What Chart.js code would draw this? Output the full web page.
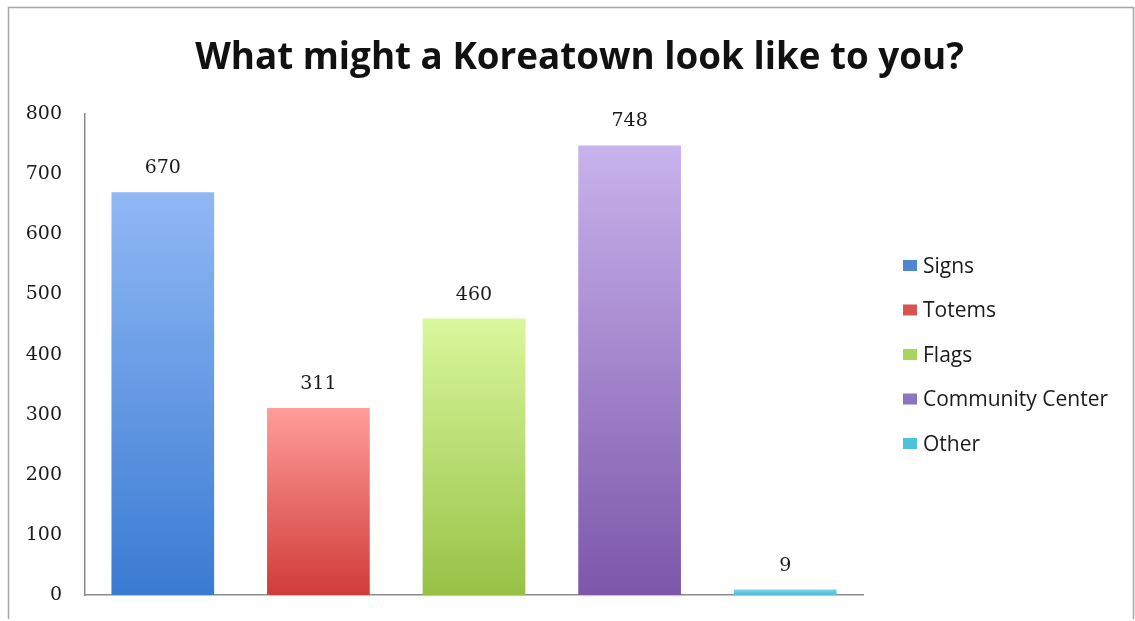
<!DOCTYPE html>
<html>
<head>
  <script src="https://cdn.jsdelivr.net/npm/chart.js"></script>
  <style>
    body { margin: 0; background: #fff; }
  </style>
</head>
<body>
  <canvas id="koreatownChart" width="1135" height="621"></canvas>

  <script>
    // survey answers
    const categories = ['Signs', 'Totems', 'Flags', 'Community Center', 'Other'];
    const counts = [670, 311, 460, 748, 9];
    const yMin = 0;
    const yMax = 800;
    const yStep = 100;

    // bar colours, light at the top and dark at the axis
    const topColors = ['#90b8f5', '#ff9d9a', '#d9f79c', '#c8b3ec', '#7fd3e8'];
    const bottomColors = ['#3a7bd2', '#d03c38', '#98c246', '#7d56aa', '#4bbcd8'];
    const keyColors = ['#4f86d0', '#d9534f', '#a8d460', '#9073c0', '#4fc3dc'];

    function barGradient(ctx) {
      const chart = ctx.chart;
      if (!chart.chartArea || ctx.dataIndex === undefined) return keyColors[0];
      const y = chart.scales.y;
      const top = y.getPixelForValue(counts[ctx.dataIndex]);
      const bottom = y.getPixelForValue(0);
      const g = chart.ctx.createLinearGradient(0, top, 0, bottom + 0.01);
      g.addColorStop(0, topColors[ctx.dataIndex]);
      g.addColorStop(1, bottomColors[ctx.dataIndex]);
      return g;
    }

    // grey frame round the whole picture
    const framePlugin = {
      id: 'frame',
      beforeDraw(chart) {
        const c = chart.ctx;
        c.save();
        c.strokeStyle = '#a6a6a6';
        c.lineWidth = 1.5;
        c.beginPath();
        c.moveTo(8.5, 619);
        c.lineTo(8.5, 7.5);
        c.lineTo(1133.5, 7.5);
        c.lineTo(1133.5, 619);
        c.stroke();
        c.restore();
      }
    };

    // number above every bar
    const valueLabels = {
      id: 'valueLabels',
      afterDatasetsDraw(chart) {
        const c = chart.ctx;
        const meta = chart.getDatasetMeta(0);
        c.save();
        c.font = '19px "DejaVu Serif"';
        c.fillStyle = '#1a1a1a';
        c.textAlign = 'center';
        c.textBaseline = 'alphabetic';
        meta.data.forEach((bar, i) => {
          c.fillText(String(counts[i]), bar.x, bar.y - 19);
        });
        c.restore();
      }
    };

    // legend on the right side
    const sideLegend = {
      id: 'sideLegend',
      afterDraw(chart) {
        const c = chart.ctx;
        const mid = 354;
        const gap = 44.5;
        c.save();
        c.font = '21px "Open Sans"';
        c.textBaseline = 'alphabetic';
        c.textAlign = 'left';
        categories.forEach((name, i) => {
          const cy = mid + (i - (categories.length - 1) / 2) * gap;
          c.fillStyle = keyColors[i];
          c.fillRect(903, cy - 5, 14, 11);
          c.fillStyle = '#1a1a1a';
          c.fillText(name, 923, cy + 7.5);
        });
        c.restore();
      }
    };

    const ctx = document.getElementById('koreatownChart').getContext('2d');
    const koreatownChart = new Chart(ctx, {
      type: 'bar',
      data: {
        labels: categories,
        datasets: [{
          label: 'Answers',
          data: counts,
          backgroundColor: barGradient,
          borderWidth: 0,
          categoryPercentage: 1,
          barPercentage: 0.66,
        }],
      },
      options: {
        responsive: false,
        animation: false,
        devicePixelRatio: 1,
        layout: {
          padding: { left: 24, top: 8, right: 0, bottom: 26 },
        },
        plugins: {
          legend: { display: false },
          tooltip: { enabled: false },
          title: {
            display: true,
            text: 'What might a Koreatown look like to you?',
            color: '#111',
            font: { family: 'Open Sans', size: 36.8, weight: 'bold' },
            padding: { top: 28, bottom: 34 },
          },
        },
        scales: {
          x: {
            grid: { display: false, drawTicks: false },
            border: { display: true, color: '#8c8c8c', width: 1.5 },
            ticks: { display: false },
            afterFit: (s) => { s.height = 0; s.paddingLeft = 0; s.paddingRight = 0; },
          },
          y: {
            min: yMin,
            max: yMax,
            ticks: {
              stepSize: yStep,
              padding: 23,
              color: '#1a1a1a',
              font: { family: 'DejaVu Serif', size: 19 },
            },
            grid: { display: false, drawTicks: false },
            border: { display: true, color: '#8c8c8c', width: 1.5 },
            afterFit: (s) => { s.width = 61; s.paddingTop = 0; s.paddingBottom = 0; },
          },
          // empty axis that keeps room for the legend
          yRoom: {
            type: 'linear',
            position: 'right',
            grid: { display: false, drawTicks: false },
            border: { display: false },
            ticks: { display: false },
            afterFit: (s) => { s.width = 272; s.paddingTop = 0; s.paddingBottom = 0; },
          },
        },
      },
      plugins: [framePlugin, valueLabels, sideLegend],
    });
  </script>
</body>
</html>
